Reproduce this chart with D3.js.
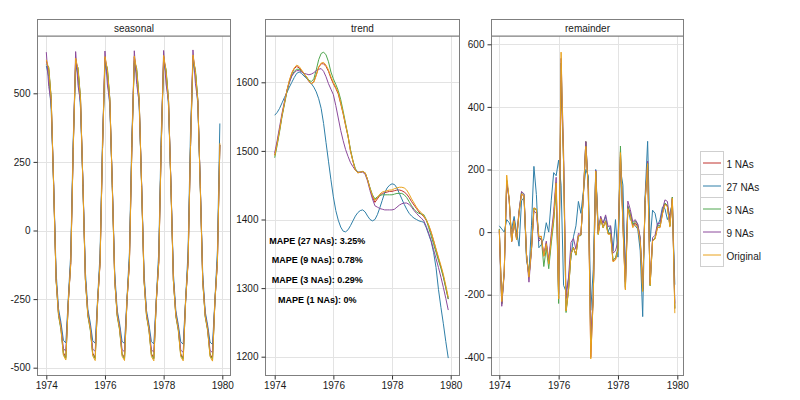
<!DOCTYPE html>
<html><head><meta charset="utf-8">
<script src="https://cdn.jsdelivr.net/npm/d3@7"></script>
<style>
body{margin:0;background:#fff}
text{font-family:Arial,"Liberation Sans",sans-serif}
</style></head>
<body><svg id="chart" width="800" height="400"></svg>
<script>
// ---------------- DATA ----------------
const seriesNames = ["1 NAs","27 NAs","3 NAs","9 NAs","Original"];
const seriesColors = ["#C0322E","#2F7FA8","#4FA64E","#8C4A9C","#E9A21C"];
const startYear = 1974, monthsPerYear = 12;
const panelNames = ["seasonal","trend","remainder"];
const xTickValues = [1974,1976,1978,1980];
const seasonalTicks = [-500,-250,0,250,500];
const trendTicks = [1200,1300,1400,1500,1600];
const remainderTicks = [-400,-200,0,200,400,600];
const mapeLabels = ["MAPE (27 NAs): 3.25%","MAPE (9 NAs): 0.78%","MAPE (3 NAs): 0.29%","MAPE (1 NAs): 0%"];
const mapeX = 1975.45;
const mapeY = [1369,1341,1312,1283];

// seasonal components
const seasonal1NA = [
 618,585,482,168,-175,-303,-355,-445,-462,-262,-122,290,
 624,583,480,166,-177,-305,-356,-447,-463,-260,-120,295,
 630,581,478,164,-179,-306,-357,-448,-464,-259,-120,298,
 632,579,476,163,-180,-307,-358,-449,-465,-258,-119,300,
 634,577,475,162,-181,-308,-358,-450,-465,-257,-119,304,
 636,576,474,161,-182,-309,-359,-450,-466,-256,-118,312];
const seasonal27NA = [
 600,560,440,175,-150,-285,-335,-400,-410,-245,-85,330,
 605,565,445,172,-152,-287,-337,-402,-411,-247,-83,335,
 608,568,448,170,-155,-290,-340,-404,-412,-248,-80,342,
 610,570,450,168,-157,-292,-342,-405,-413,-248,-78,350,
 612,572,452,166,-158,-293,-343,-406,-414,-249,-75,365,
 615,574,455,165,-160,-295,-345,-407,-415,-250,-72,390];
const seasonal3NA = [
 605,596,484,158,-181,-311,-362,-452,-466,-262,-113,296,
 610,594,482,157,-182,-312,-363,-453,-467,-261,-112,299,
 615,592,480,156,-183,-313,-364,-454,-468,-260,-111,302,
 618,590,478,155,-184,-313,-364,-455,-468,-259,-110,304,
 620,588,477,154,-185,-314,-365,-455,-469,-258,-110,307,
 622,586,476,153,-186,-315,-365,-456,-469,-257,-109,312];
const seasonal9NA = [
 650,525,465,170,-175,-300,-350,-430,-440,-260,-110,300,
 652,528,466,170,-176,-301,-351,-432,-441,-259,-110,303,
 654,530,467,169,-177,-302,-352,-434,-442,-258,-109,305,
 655,532,468,168,-178,-303,-353,-435,-443,-257,-108,307,
 656,534,469,167,-179,-304,-354,-436,-444,-256,-107,309,
 658,536,470,166,-180,-305,-355,-437,-445,-255,-106,312];
const seasonalOriginal = [
 622,590,478,165,-178,-306,-357,-455,-472,-258,-120,298,
 628,588,476,163,-180,-308,-358,-457,-474,-256,-118,302,
 634,586,474,161,-182,-309,-359,-458,-474,-255,-118,305,
 636,583,472,160,-183,-310,-360,-459,-475,-254,-117,306,
 638,581,471,159,-184,-311,-360,-460,-475,-253,-117,310,
 640,580,470,158,-185,-312,-361,-460,-476,-252,-116,318];

// trend components
const trend1NA = [
 1494,1511,1531,1552,1570,1588,1602,1613,1620,1623,1621,1617,
 1612,1607,1601,1598,1601,1611,1622,1627,1627,1623,1616,1606,
 1598,1591,1583,1569,1554,1537,1521,1500,1485,1472,1468,1469,
 1470,1468,1458,1445,1433,1425,1430,1435,1438,1439,1440,1441,
 1441,1442,1443,1443,1442,1440,1437,1432,1426,1421,1416,1411,
 1408,1404,1399,1391,1381,1369,1356,1343,1331,1317,1301,1284];
const trend27NA = [
 1552,1556,1562,1570,1578,1585,1593,1600,1607,1613,1615,1613,
 1609,1606,1602,1598,1593,1586,1576,1562,1540,1512,1485,1458,
 1433,1413,1399,1389,1383,1382,1385,1391,1398,1405,1410,1413,
 1414,1411,1405,1400,1398,1400,1407,1417,1428,1439,1446,1450,
 1452,1451,1446,1438,1430,1422,1415,1409,1405,1402,1400,1398,
 1397,1396,1388,1378,1368,1352,1330,1298,1272,1248,1222,1198];
const trend3NA = [
 1490,1508,1528,1550,1568,1586,1600,1610,1616,1619,1619,1616,
 1612,1608,1603,1601,1605,1618,1633,1642,1644,1640,1630,1615,
 1605,1597,1588,1575,1558,1540,1522,1502,1486,1474,1469,1469,
 1470,1468,1458,1446,1436,1430,1433,1435,1436,1436,1436,1436,
 1436,1437,1438,1438,1438,1436,1432,1426,1420,1415,1411,1409,
 1408,1407,1400,1388,1376,1364,1352,1340,1329,1316,1300,1284];
const trend9NA = [
 1497,1515,1535,1555,1572,1588,1600,1609,1614,1617,1617,1615,
 1613,1612,1611,1612,1614,1617,1619,1620,1616,1608,1598,1590,
 1582,1566,1548,1530,1515,1502,1492,1483,1477,1472,1469,1469,
 1469,1466,1456,1442,1430,1420,1418,1416,1415,1414,1414,1414,
 1414,1415,1418,1421,1423,1424,1424,1422,1418,1413,1409,1405,
 1402,1398,1390,1380,1369,1356,1343,1330,1316,1301,1285,1268];
const trendOriginal = [
 1493,1510,1530,1552,1570,1588,1603,1614,1621,1625,1623,1618,
 1613,1608,1602,1598,1600,1610,1622,1628,1629,1625,1618,1608,
 1600,1593,1585,1570,1555,1538,1522,1500,1485,1472,1468,1469,
 1470,1468,1458,1445,1435,1428,1432,1437,1440,1441,1442,1443,
 1443,1445,1446,1447,1447,1446,1443,1437,1430,1424,1418,1413,
 1410,1405,1400,1392,1382,1370,1357,1345,1333,1320,1304,1287];

// remainder components
const remainder1NA = [
 9,-228,-125,162,104,-30,37,-24,62,121,115,-72,
 -143,-55,77,73,-16,-14,-77,-36,-100,-21,47,158,
 -212,485,226,-251,-183,-68,-49,-72,-12,-9,117,289,
 136,-400,-210,195,-5,46,16,36,-5,-5,-93,-87,
 -56,257,25,-181,80,56,20,30,18,-26,-188,100,
 221,-169,-27,-21,16,15,59,90,83,19,111,-244];
const remainder27NA = [
 20,10,0,40,30,10,50,0,-45,100,110,-90,
 -130,20,210,120,-50,-40,-20,30,0,100,190,180,
 230,150,-170,-190,-150,-80,-15,20,98,60,130,200,
 180,-250,-120,200,20,40,30,50,0,20,-60,40,
 -80,200,150,-130,80,40,30,20,10,-60,-270,120,
 290,-30,70,60,20,40,80,75,40,60,90,-168];
const remainder3NA = [
 10,-230,-125,166,106,-28,39,-21,67,128,120,-71,
 -143,-56,76,71,-20,-21,-110,-51,-117,-38,33,135,
 -228,540,221,-257,-187,-71,-50,-74,-13,-11,116,289,
 136,-355,-210,194,-8,41,13,36,-3,-2,-89,-82,
 -51,275,30,-176,84,60,25,36,24,-20,-183,102,
 221,-172,-28,-18,21,20,63,93,85,20,112,-244];
const remainder9NA = [
 3,-237,-132,161,102,-30,39,-20,69,130,122,-70,
 -160,-60,68,60,-29,-20,-74,-29,-89,-6,65,175,
 -196,555,261,-212,-144,-33,-20,-55,-4,-9,116,289,
 137,-330,-208,198,-2,51,28,55,18,20,-67,-60,
 -29,240,50,-159,99,72,33,40,26,-18,-181,106,
 227,-163,-18,-10,28,28,72,103,98,35,105,-228];
const remainderOriginal = [
 7,-222,-127,182,104,-30,36,-25,62,122,116,-73,
 -144,-56,77,74,-15,-13,-77,-37,-102,-23,45,157,
 -214,575,224,-252,-184,-69,-50,-72,-12,-9,117,274,
 136,-405,-210,195,-7,43,14,34,-7,-7,-95,-89,
 -58,254,22,-185,75,50,14,25,14,-29,-190,98,
 219,-170,-28,-22,15,14,58,88,81,16,108,-259];

// ---------------- BUILD ----------------
const components = {
  seasonal: [seasonal1NA,seasonal27NA,seasonal3NA,seasonal9NA,seasonalOriginal],
  trend: [trend1NA,trend27NA,trend3NA,trend9NA,trendOriginal],
  remainder: [remainder1NA,remainder27NA,remainder3NA,remainder9NA,remainderOriginal]
};
const timeOf = i => startYear + i/monthsPerYear;

const svg = d3.select("#chart");
const panelTop = 36, panelBottom = 375.5, stripTop = 19.5;
const layout = [
  {name:"seasonal", left:37.5, right:230.5, x0:46.3, x1:222.3, ticks:seasonalTicks, ya:[500,93.3], yb:[-500,367.7]},
  {name:"trend", left:265.5, right:459.5, x0:274.7, x1:450.7, ticks:trendTicks, ya:[1600,82.3], yb:[1200,356.7]},
  {name:"remainder", left:491.5, right:683.5, x0:499.3, x1:677.3, ticks:remainderTicks, ya:[600,44.3], yb:[-400,357.3]}
];

layout.forEach(p => {
  const x = d3.scaleLinear().domain([1974,1980]).range([p.x0,p.x1]);
  const y = d3.scaleLinear().domain([p.ya[0],p.yb[0]]).range([p.ya[1],p.yb[1]]);
  const g = svg.append("g");
  // grid
  g.selectAll(".gy").data(p.ticks).join("line")
    .attr("x1",p.left).attr("x2",p.right)
    .attr("y1",d=>Math.round(y(d))+0.5).attr("y2",d=>Math.round(y(d))+0.5)
    .attr("stroke","#e3e3e3").attr("stroke-width",1);
  g.selectAll(".gx").data(xTickValues).join("line")
    .attr("y1",panelTop).attr("y2",panelBottom)
    .attr("x1",d=>Math.round(x(d))+0.5).attr("x2",d=>Math.round(x(d))+0.5)
    .attr("stroke","#e3e3e3").attr("stroke-width",1);
  // lines
  const line = d3.line().x((d,i)=>x(timeOf(i))).y(d=>y(d));
  components[p.name].forEach((vals,k) => {
    g.append("path").attr("d",line(vals)).attr("fill","none")
      .attr("stroke",seriesColors[k]).attr("stroke-width",1);
  });
  // panel border
  g.append("rect").attr("x",p.left).attr("y",panelTop).attr("width",p.right-p.left)
    .attr("height",panelBottom-panelTop).attr("fill","none").attr("stroke","#7f7f7f");
  // strip
  g.append("rect").attr("x",p.left).attr("y",stripTop).attr("width",p.right-p.left)
    .attr("height",panelTop-stripTop).attr("fill","#fff").attr("stroke","#7f7f7f");
  g.append("text").attr("x",(p.left+p.right)/2).attr("y",(stripTop+panelTop)/2+4)
    .attr("text-anchor","middle").attr("font-size",10).attr("fill","#1a1a1a").text(p.name);
  // axes
  const ax = d3.axisBottom(x).tickValues(xTickValues).tickFormat(d3.format("d")).tickSize(4).tickPadding(2);
  const axg = svg.append("g").attr("transform",`translate(0,${panelBottom})`).call(ax);
  const ay = d3.axisLeft(y).tickValues(p.ticks).tickFormat(d=>String(d)).tickSize(4).tickPadding(3);
  const ayg = svg.append("g").attr("transform",`translate(${p.left},0)`).call(ay);
  [axg,ayg].forEach(a=>{
    a.select(".domain").remove();
    a.selectAll(".tick line").attr("stroke","#333");
    a.selectAll(".tick text").attr("font-size",10).attr("fill","#1a1a1a")
      .attr("font-family","Arial,'Liberation Sans',sans-serif");
  });
  if (p.name === "trend") {
    g.selectAll(".mape").data(mapeLabels).join("text")
      .attr("x",x(mapeX)).attr("y",(d,i)=>y(mapeY[i])+3.5)
      .attr("text-anchor","middle").attr("font-size",9).attr("font-weight","bold")
      .attr("fill","#000").text(d=>d);
  }
});

// legend
const lg = svg.append("g");
const keyX = 700.5, keyTop = 151.5, keySize = 23;
seriesNames.forEach((n,k) => {
  const yy = keyTop + k*keySize;
  lg.append("rect").attr("x",keyX).attr("y",yy).attr("width",keySize).attr("height",keySize)
    .attr("fill","#fff").attr("stroke","#cfcfcf");
  lg.append("line").attr("x1",keyX+2.5).attr("x2",keyX+keySize-2.5)
    .attr("y1",yy+keySize/2).attr("y2",yy+keySize/2)
    .attr("stroke",seriesColors[k]).attr("stroke-width",1);
  lg.append("text").attr("x",keyX+keySize+3).attr("y",yy+keySize/2+4.5)
    .attr("font-size",10).attr("fill","#1a1a1a").text(n);
});
</script></body></html>
